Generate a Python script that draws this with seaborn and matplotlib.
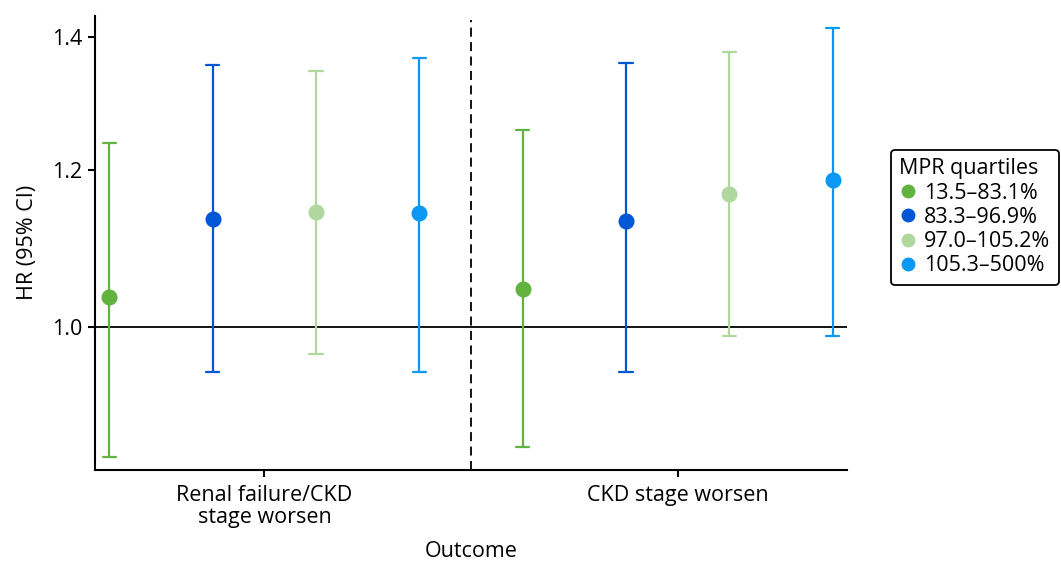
import numpy as np
import pandas as pd
import matplotlib
matplotlib.use("Agg")
import matplotlib.pyplot as plt
from matplotlib.lines import Line2D
from matplotlib.ticker import FixedLocator, FixedFormatter, NullLocator
import seaborn as sns

# Hazard ratios with 95% confidence intervals by MPR quartile
outcomes = ["Renal failure/CKD\nstage worsen", "CKD stage worsen"]
quartiles = ["13.5–83.1%", "83.3–96.9%", "97.0–105.2%", "105.3–500%"]
hr = [
    [1.035, 1.134, 1.143, 1.142],
    [1.045, 1.131, 1.167, 1.186],
]
ci_low = [
    [0.860, 0.949, 0.969, 0.949],
    [0.870, 0.949, 0.990, 0.990],
]
ci_high = [
    [1.238, 1.356, 1.346, 1.367],
    [1.257, 1.359, 1.376, 1.415],
]
colors = ["#62B240", "#0057D6", "#B0D89E", "#0A98F7"]

# Long table: each cell holds its lower bound, estimate and upper bound
rows = []
for i, outcome in enumerate(outcomes):
    for j, q in enumerate(quartiles):
        for v in (ci_low[i][j], hr[i][j], ci_high[i][j]):
            rows.append({"Outcome": outcome, "MPR quartiles": q, "HR": v})
df = pd.DataFrame(rows)

sns.set_theme(style="ticks")
plt.rcParams["font.family"] = ["Open Sans", "DejaVu Sans"]
plt.rcParams["text.color"] = "black"
FS = 15.5

fig = plt.figure(figsize=(10.61, 5.63), dpi=100)
ax = fig.add_axes([0.0895, 0.165, 0.709, 0.807])

sns.pointplot(
    data=df, x="Outcome", y="HR", hue="MPR quartiles",
    order=outcomes, hue_order=quartiles, palette=colors,
    estimator="median", errorbar=lambda v: (np.min(v), np.max(v)),
    dodge=0.75, linestyle="none", markers="o", markersize=9.5,
    capsize=0.032, err_kws={"linewidth": 1.6}, log_scale=True,
    legend=False, ax=ax,
)

ax.axhline(1.0, color="black", linewidth=1.3, zorder=0)
ax.axvline(0.5, ymax=0.99, color="black", linewidth=1.3,
           linestyle=(0, (5, 3)), zorder=0)

ax.set_xlim(-0.41, 1.41)
ax.set_ylim(0.847, 1.435)
ax.yaxis.set_major_locator(FixedLocator([1.0, 1.2, 1.4]))
ax.yaxis.set_major_formatter(FixedFormatter(["1.0", "1.2", "1.4"]))
ax.yaxis.set_minor_locator(NullLocator())

sns.despine(ax=ax)
for side in ("left", "bottom"):
    ax.spines[side].set_linewidth(1.5)
    ax.spines[side].set_color("black")
ax.tick_params(axis="both", colors="black", labelsize=FS, width=1.5, length=5)
ax.tick_params(axis="y", pad=4)
ax.tick_params(axis="x", pad=6)
for lbl in ax.get_xticklabels():
    lbl.set_linespacing(1.05)

ax.set_xlabel("Outcome", fontsize=FS, color="black", labelpad=9)
ax.set_ylabel("HR (95% CI)", fontsize=FS, color="black", labelpad=10)

handles = [
    Line2D([], [], linestyle="none", marker="o", markersize=9,
           markerfacecolor=c, markeredgecolor=c)
    for c in colors
]
leg = ax.legend(
    handles, quartiles, title="MPR quartiles",
    loc="upper left", bbox_to_anchor=(1.058, 0.705),
    frameon=True, fancybox=True, fontsize=FS, title_fontsize=FS,
    handletextpad=0.35, handlelength=0.8, borderpad=0.4,
    labelspacing=0.15, borderaxespad=0,
)
leg.get_frame().set_edgecolor("black")
leg.get_frame().set_linewidth(1.3)
leg.get_frame().set_alpha(1)
leg._legend_box.align = "left"
for t in leg.get_texts():
    t.set_color("black")
leg.get_title().set_color("black")

fig.savefig("out.png", dpi=100)
